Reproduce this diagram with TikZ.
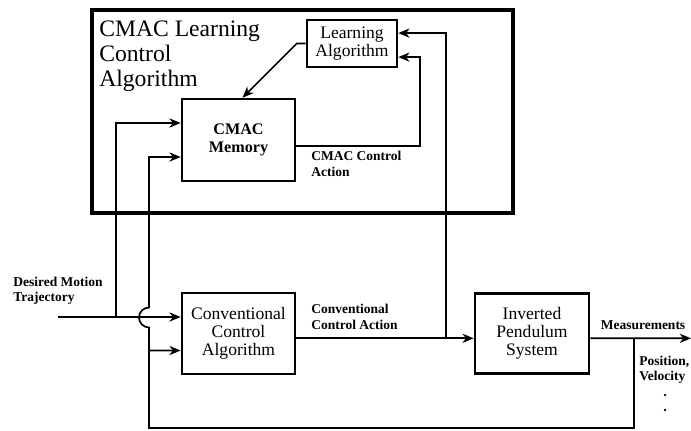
\documentclass[tikz,border=0pt]{standalone}
\usepackage{fontspec}
\setmainfont{Liberation Serif}
\usetikzlibrary{arrows.meta, positioning, calc}

\tikzset{
    blk/.style={draw, line width=1.8pt, align=center, inner sep=0pt,
        font=\fontsize{12.5}{12.8}\selectfont},
    sig/.style={line width=1.2pt, -{Stealth[length=8pt,width=6.5pt,inset=2.5pt]}},
    wire/.style={line width=1.2pt},
    lbl/.style={align=left, inner sep=0pt, font=\bfseries\fontsize{9.6}{11}\selectfont},
}

\begin{document}
\begin{tikzpicture}[x=0.025cm, y=-0.025cm]
    \useasboundingbox (0,0) rectangle (691,430);

    % CMAC learning part
    \draw[line width=2.8pt] (92,10) rectangle (513,213);
    \node[anchor=north west, align=left, inner sep=0pt,
        font=\fontsize{16.8}{17.8}\selectfont] (title) at (99,21) {CMAC Learning\\Control\\Algorithm};

    % Blocks
    \node[blk, minimum width=2.25cm, minimum height=1.175cm] (lrn) at (352,43.5) {Learning\\Algorithm};
    \node[blk, minimum width=2.825cm, minimum height=2.05cm,
        font=\bfseries\fontsize{11.5}{13}\selectfont] (mem) at (238.5,140) {CMAC\\Memory};
    \node[blk, minimum width=2.825cm, minimum height=2.025cm] (conv) at (238.5,333.5) {Conventional\\Control\\Algorithm};
    \node[blk, minimum width=2.85cm, minimum height=2.0cm] (pend) at (532,333.5) {Inverted\\Pendulum\\System};

    % Branch points
    \coordinate (in) at (58,317);
    \coordinate (jd) at (116,317);
    \coordinate (tap) at (446,338.3);
    \coordinate (fb) at (634,338.3);
    \coordinate (lowc) at (149,428);
    \coordinate (jf) at (149,350.5);
    \coordinate (out) at (691,338.3);

    % Learning -> memory
    \draw[sig] (lrn.west) -- ++(-9,0) -- ([xshift=0.1cm]mem.north);

    % Desired trajectory
    \draw[sig] (in) -- ([yshift=0.4125cm]conv.west);
    \draw[sig] (jd) |- ([yshift=0.425cm]mem.west);

    % CMAC control action
    \draw[sig] ([yshift=-0.15cm]mem.east) -- ++(124,0) |- ([yshift=-0.34cm]lrn.east);

    % Conventional control action
    \draw[sig] ([yshift=-0.12cm]conv.east) -- ([yshift=-0.12cm]conv.east -| pend.west);
    \draw[sig] (tap) |- ([yshift=0.26cm]lrn.east);

    % Measurements and feedback (hops over the trajectory line)
    \draw[sig] ([yshift=-0.12cm]pend.east) -- (out);
    \draw[sig] (fb) |- (lowc) -- (149,327.5) arc[start angle=270, end angle=90, radius=0.25cm]
        |- ([yshift=-0.425cm]mem.west);
    \draw[sig] (jf) -- ([yshift=-0.425cm]conv.west);

    % Labels
    \node[lbl, anchor=west] (dmt) at (13,291) {Desired Motion\\Trajectory};
    \node[lbl, anchor=west] (cca) at (311,164) {CMAC Control\\Action};
    \node[lbl, anchor=west] (cva) at (311,317) {Conventional\\Control Action};
    \node[lbl] (meas) at (643,325) {Measurements};
    \node[lbl, anchor=west] (posv) at (639,370) {Position,\\Velocity};
    \fill (665,395) circle (0.9pt);
    \fill (665,410) circle (0.9pt);
\end{tikzpicture}
\end{document}
